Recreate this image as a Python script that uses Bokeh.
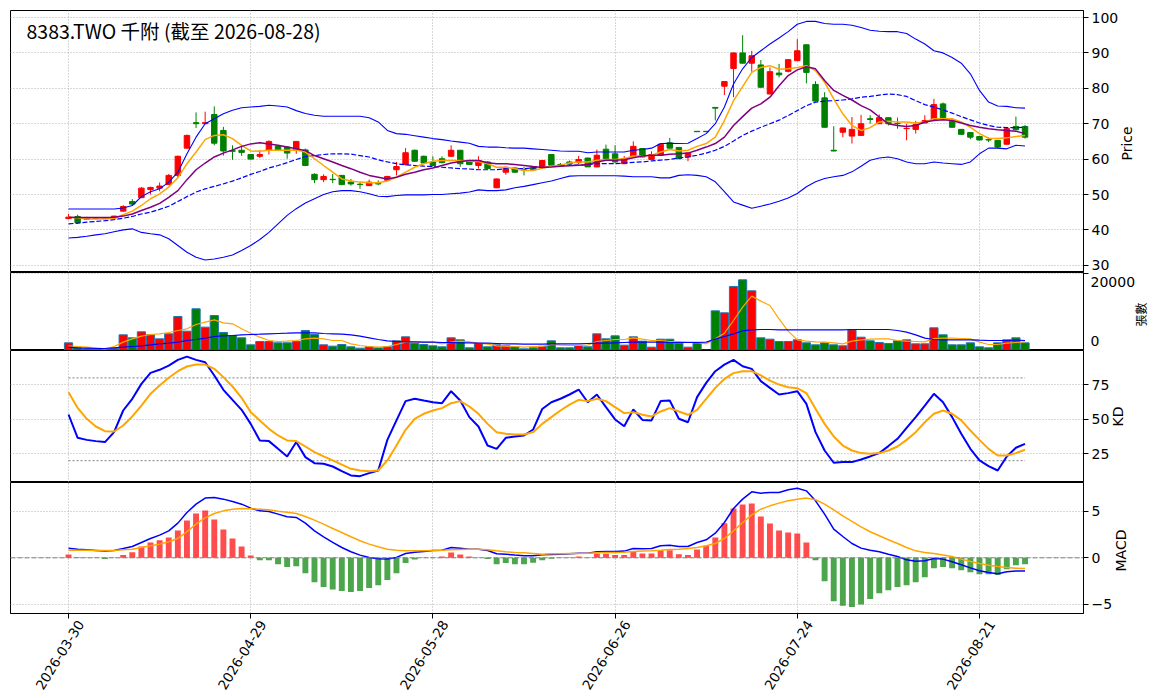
import math
from bokeh.plotting import figure
from bokeh.layouts import column
from bokeh.models import (ColumnDataSource, FixedTicker, Range1d, Label, Span,
                          LinearAxis, CustomJSTickFormatter)
from bokeh.embed import file_html
from bokeh.resources import INLINE

# ---------------- data ----------------
tick_idx = [0, 20, 40, 60, 80, 100]
tick_labels = ["2026-03-30", "2026-04-29", "2026-05-28", "2026-06-26", "2026-07-24", "2026-08-21"]
title_text = "8383.TWO 千附 (截至 2026-08-28)"
price_ticks = [30, 40, 50, 60, 70, 80, 90, 100]
volume_ticks = [0, 20000]
kd_ticks = [25, 50, 75]
macd_ticks = [-5, 0, 5]

opens = [43.2,43.8,43.0,43.3,43.4,43.4,45.3,48.0,49.1,51.4,
         51.8,52.8,55.4,63.1,70.3,70.0,72.6,68.1,62.4,62.5,
         61.3,60.8,62.5,63.7,63.4,62.5,62.6,55.7,54.2,54.3,
         55.4,53.5,52.9,52.5,53.1,54.0,57.0,58.5,62.5,60.8,
         59.2,60.1,60.8,62.5,59.6,58.2,59.2,51.9,56.3,57.5,
         57.0,57.9,57.7,61.3,58.5,59.2,59.0,60.3,57.8,62.8,
         61.5,58.7,60.9,63.0,59.9,61.1,64.6,63.3,60.6,67.85,
         67.85,74.6,80.6,85.6,90.0,87.1,86.6,78.4,84.3,84.8,
         87.8,92.3,81.1,77.3,62.5,67.6,66.5,66.7,71.4,70.0,
         71.7,70.1,68.6,68.4,70.2,71.2,75.6,70.7,68.4,67.5,
         66.4,65.5,65.3,64.2,69.2,69.2]
highs = [44.5,44.3,43.7,43.5,43.5,44.0,47.0,48.7,52.1,52.2,
         53.4,55.8,61.0,66.9,73.2,73.4,74.9,69.1,63.9,63.9,
         61.4,62.6,65.3,63.9,63.6,65.1,63.0,56.0,55.7,55.8,
         55.5,54.4,53.5,54.2,54.0,55.3,59.2,63.1,62.7,61.0,
         60.8,60.8,63.9,62.6,59.8,60.8,59.4,54.5,57.8,57.6,
         57.8,58.0,59.7,61.4,58.9,59.6,60.9,60.4,62.7,64.1,
         63.9,60.9,65.0,63.1,62.2,64.3,66.0,63.4,61.8,67.85,
         67.85,74.6,82.0,90.1,95.0,90.6,88.0,85.9,86.9,88.2,
         93.9,92.4,82.0,78.9,69.3,68.9,71.9,72.5,72.4,72.6,
         71.8,71.7,70.0,70.8,72.4,77.0,76.0,71.2,68.5,67.6,
         66.6,66.2,65.4,69.1,72.0,69.6]
lows = [43.0,41.7,42.8,43.1,43.2,43.2,45.2,46.8,49.0,50.0,
        50.9,52.7,54.9,63.0,68.8,69.9,63.9,61.0,59.8,60.9,
        59.9,60.3,61.3,62.4,60.1,61.5,58.0,53.2,53.5,53.2,
        52.7,52.5,51.6,52.4,52.6,53.9,55.4,58.2,59.3,58.7,
        57.9,58.8,60.7,57.8,58.4,57.3,57.2,51.8,55.6,56.2,
        55.4,56.9,57.6,58.2,58.0,58.4,58.6,57.8,57.7,59.7,
        58.8,58.6,60.8,60.5,59.8,61.0,63.0,60.0,59.4,67.75,
        67.75,70.9,78.1,77.5,87.0,84.7,80.2,78.3,83.1,84.5,
        87.7,81.4,76.3,68.9,62.2,66.2,64.4,66.6,70.0,69.9,
        69.5,68.6,65.3,67.2,70.1,71.1,71.6,68.9,66.9,65.6,
        65.3,64.8,63.0,64.1,68.1,65.8]
closes = [43.6,42.1,43.4,43.4,43.4,43.9,46.6,47.3,51.8,52.0,
          52.4,55.4,60.8,66.7,70.0,70.3,64.5,62.3,62.2,61.9,
          60.0,61.3,65.0,62.5,61.7,65.0,58.2,54.2,55.1,54.2,
          52.8,53.0,52.8,53.5,53.0,55.1,57.9,61.8,59.4,58.9,
          58.2,59.0,62.5,58.7,58.5,59.6,57.3,54.4,57.7,56.3,
          56.9,57.0,59.6,58.3,58.4,58.6,59.9,57.8,61.1,59.8,
          59.2,60.1,63.6,60.6,61.3,64.2,63.1,60.1,61.7,67.75,
          67.75,74.4,81.9,90.0,87.1,89.2,80.3,84.7,83.8,88.1,
          90.6,84.5,76.4,69.0,62.3,68.8,68.4,70.0,71.2,71.7,
          70.0,70.0,68.7,69.8,70.9,75.4,71.7,69.0,67.0,66.2,
          65.4,65.4,63.4,68.6,68.3,66.2]

ma5 = [43.6,43.4,43.1,43.1,43.1,43.3,44.3,45.3,46.9,48.8,
       50.2,52.1,54.7,58.7,62.0,65.5,66.7,66.9,65.8,63.9,
       62.3,62.2,62.5,62.5,62.5,62.6,62.0,60.1,58.2,56.3,
       54.4,53.8,53.5,53.3,53.3,53.8,54.9,56.3,57.7,58.7,
       59.4,59.6,59.6,59.6,59.4,59.3,58.7,57.7,57.7,57.3,
       56.8,56.8,57.4,58.0,58.3,58.9,59.2,59.2,59.7,59.9,
       59.9,60.1,60.9,60.9,61.1,62.0,62.7,62.3,62.5,63.6,
       64.4,66.2,70.9,76.5,80.5,84.5,85.9,86.4,85.4,85.5,
       85.9,86.4,85.0,81.7,77.0,72.8,69.5,68.1,68.9,70.5,
       70.7,70.5,70.5,70.2,70.5,71.4,71.4,71.4,70.5,69.0,
       67.2,65.9,65.8,66.0,66.4,66.7]
ma10 = [43.6,43.5,43.5,43.5,43.5,43.6,43.9,44.5,45.5,46.4,
        47.5,49.2,51.1,54.2,57.0,58.9,60.6,61.7,62.6,63.6,
        64.3,64.6,64.3,63.9,63.4,62.9,62.4,61.0,60.1,59.2,
        58.2,57.3,56.3,55.4,54.9,54.4,54.9,55.7,56.3,57.0,
        57.5,58.2,58.9,59.3,59.6,59.6,59.0,58.7,58.7,58.5,
        58.2,57.9,57.65,57.8,58.0,58.1,58.3,58.5,59.2,59.7,
        59.7,59.8,60.4,60.9,61.1,61.1,61.4,61.5,61.7,62.5,
        63.4,64.4,66.2,69.5,72.0,74.4,75.6,77.5,80.7,83.6,
        85.2,86.1,85.5,82.2,79.4,78.0,76.7,75.1,73.9,71.9,
        70.0,69.5,69.2,69.5,70.5,70.9,71.1,70.9,70.2,69.5,
        69.0,68.6,68.3,68.1,67.9,67.2]
ma20 = [41.7,41.9,42.2,42.4,42.6,42.9,43.3,43.8,44.5,45.0,
        45.8,46.7,48.0,49.4,50.7,51.6,52.3,53.0,53.8,54.7,
        55.7,56.5,57.5,58.2,59.0,59.9,60.7,61.0,61.3,61.5,
        61.5,61.4,61.0,60.6,59.8,59.2,58.7,58.4,58.2,58.0,
        57.9,57.7,57.5,57.3,57.2,57.0,57.0,57.0,57.3,57.3,
        57.3,57.5,57.7,58.0,58.2,58.3,58.3,58.4,58.7,58.7,
        58.7,58.9,59.1,59.2,59.5,59.7,59.9,60.3,60.6,61.1,
        61.7,62.5,63.6,65.1,66.7,67.9,69.0,70.0,71.0,72.3,
        73.7,75.1,76.1,76.4,76.5,76.7,77.0,77.5,77.7,78.1,
        78.4,78.2,77.7,76.5,75.4,74.7,73.9,73.0,72.0,71.1,
        70.2,69.5,69.0,68.9,68.9,69.0]
bb_upper = [45.9,45.9,45.9,45.9,45.9,45.9,46.2,46.9,49.4,50.8,
            51.6,53.5,56.3,61.5,66.2,70.0,71.4,72.8,73.8,74.5,
            74.7,74.9,75.2,75.0,74.7,73.7,72.9,72.4,72.1,72.1,
            72.1,72.1,72.1,71.7,70.5,68.1,67.2,67.0,66.6,66.2,
            65.8,65.5,65.1,64.8,64.5,63.6,63.4,63.4,63.2,63.1,
            63.1,62.9,62.7,62.5,62.3,62.2,62.2,61.8,62.0,62.0,
            62.0,62.0,62.5,62.7,63.1,64.4,64.5,64.4,64.5,65.8,
            67.2,70.0,74.7,81.2,85.5,88.7,90.6,92.5,94.2,96.0,
            98.1,98.9,98.9,98.3,98.1,98.1,97.8,97.2,96.4,96.1,
            96.0,96.0,95.5,93.9,92.5,90.6,90.0,88.7,87.1,84.1,
            79.4,76.1,75.0,74.9,74.5,74.4]
bb_lower = [37.7,37.9,38.2,38.6,38.9,39.5,40.0,40.3,39.3,38.9,
            38.6,37.5,35.6,33.7,32.3,31.5,31.8,32.3,32.9,34.2,
            35.6,37.3,39.3,41.7,44.1,46.0,47.6,48.8,50.0,50.8,
            51.1,51.1,50.8,50.2,49.5,49.4,49.7,49.9,49.9,49.9,
            50.0,50.0,50.2,50.4,50.7,51.3,51.1,51.1,51.3,51.9,
            52.3,52.8,53.3,53.8,54.5,55.2,55.3,55.3,55.3,55.3,
            55.3,55.2,55.0,55.0,55.0,54.7,54.7,55.4,55.6,55.4,
            55.0,53.6,50.8,47.9,47.0,46.1,46.7,47.3,48.1,49.0,
            50.3,52.2,53.6,54.5,55.0,55.4,56.4,58.0,59.7,60.3,
            60.6,60.1,59.2,58.7,58.7,59.2,58.9,58.7,58.5,59.2,
            61.5,63.1,63.1,62.9,63.9,63.7]

volumes = [1990,690,430,300,300,600,4070,3290,4850,4070,
           3030,4330,8830,5020,10830,6060,9090,4680,3900,3290,
           1470,2340,2340,1990,1990,2340,5200,4160,1470,1130,
           1560,950,600,950,690,950,2510,3550,1820,1560,
           1210,950,3290,2770,690,1820,950,1470,1210,950,
           430,690,1100,2510,690,690,1300,950,4330,3030,
           3810,1390,3550,2420,870,2940,2940,1900,870,1900,
           100,10300,9790,16630,18360,15500,3290,2940,2340,2340,
           2770,1990,1470,1990,1470,1210,5370,3460,2510,2080,
           1820,2510,2770,1730,1730,5890,4070,1470,1470,1990,
           950,690,1990,2770,3290,1990]
vol_ma5 = [1210,1040,870,690,430,1040,2170,3030,3720,4160,
           4330,4680,5200,5630,6750,7360,7970,7190,6930,5630,
           4500,3460,2600,2340,2420,2600,3030,3200,3030,2600,
           2600,1730,1300,1040,870,1040,1560,2170,2170,2170,
           2170,1730,2170,2420,2250,1900,1650,1210,1130,1040,
           870,1040,1040,1560,1390,1300,1300,1390,2340,2600,
           2860,2860,3290,2940,2600,2600,2340,2340,2170,2170,
           1730,3030,4500,7790,11260,14120,12820,11690,8230,5020,
           2770,2420,2250,2170,1990,1730,2420,2770,2940,3030,
           3030,2600,2420,2340,2250,3120,3200,3200,3120,3030,
           2170,1560,1560,1900,2080,2250]
vol_ma20 = [870,690,600,520,520,690,870,1040,1210,1470,
            1730,1900,2170,2600,2860,3200,3640,3810,3900,4070,
            4160,4240,4330,4420,4500,4590,4590,4590,4420,4330,
            4240,4070,3720,3290,2860,2510,2340,2250,2250,2170,
            2170,2080,2080,1990,1990,1900,1900,1820,1730,1730,
            1650,1650,1650,1730,1730,1730,1730,1820,1900,1900,
            1990,2080,2170,2170,2170,2170,2080,2080,2080,2080,
            2170,2940,3640,4330,5110,5370,5460,5460,5370,5370,
            5370,5370,5370,5370,5370,5370,5460,5460,5460,5460,
            5460,5200,4760,4070,3200,2860,2770,2770,2770,2770,
            2680,2600,2600,2600,2680,2600]

k_vals = [53.5,36.6,35.1,34.2,33.5,40.7,56.4,64.9,75.7,83.7,
          85.9,89.0,93.1,95.5,93.1,91.4,81.8,71.4,64.1,56.9,
          46.7,34.7,34.2,28.6,23.1,33.5,22.6,18.2,17.8,15.8,
          12.4,9.3,8.8,11.0,12.9,35.1,49.2,63.2,64.9,63.6,
          62.4,61.7,70.4,63.6,51.6,44.8,31.0,28.6,36.6,37.6,
          38.3,42.6,57.5,62.4,64.9,68.0,71.6,62.4,68.0,58.8,
          49.9,45.0,57.1,49.6,49.2,63.2,63.6,50.4,47.9,66.1,
          76.4,84.9,89.7,93.1,88.5,86.6,77.7,72.8,68.0,69.0,
          70.4,61.2,40.7,27.4,18.5,19.0,19.0,20.9,23.1,25.5,
          30.6,35.9,43.8,51.6,60.0,68.5,62.4,51.6,39.5,28.6,
          20.2,16.1,12.9,23.1,29.4,32.2]
d_vals = [69.7,58.3,50.4,44.8,41.4,41.2,45.5,52.1,60.0,68.5,
          74.5,80.1,84.9,88.3,89.7,89.7,86.6,80.6,73.8,65.6,
          55.2,49.2,43.1,38.3,34.7,34.2,30.3,26.2,23.1,20.2,
          17.1,14.1,12.9,12.4,12.9,20.2,31.0,42.4,50.4,54.0,
          56.4,58.1,61.7,63.2,59.3,54.0,46.7,40.7,39.5,39.0,
          39.0,40.7,46.7,51.6,56.4,60.7,64.1,63.2,64.9,63.2,
          58.8,54.5,55.2,53.3,52.1,55.7,58.1,55.7,53.3,56.9,
          64.9,72.8,79.3,83.5,84.9,84.9,81.8,78.1,75.2,73.3,
          72.6,69.0,57.6,46.7,37.6,31.0,27.4,25.5,25.0,25.5,
          27.4,30.3,35.1,40.7,47.9,54.0,56.4,54.0,49.2,41.9,
          35.1,28.6,23.8,23.8,25.5,27.9]

dif = [1.04,0.93,0.86,0.79,0.72,0.79,1.0,1.22,1.65,2.08,
       2.44,2.9,3.73,4.87,5.77,6.42,6.49,6.31,6.06,5.77,
       5.34,5.05,4.98,4.7,4.41,4.34,3.73,2.9,2.26,1.65,
       1.11,0.65,0.29,0.04,-0.11,-0.14,0.04,0.47,0.61,0.68,
       0.79,0.82,1.11,1.04,0.93,0.93,0.79,0.43,0.39,0.29,
       0.22,0.22,0.32,0.36,0.39,0.43,0.5,0.5,0.65,0.68,
       0.68,0.72,1.0,0.97,1.0,1.29,1.36,1.22,1.22,1.65,
       1.94,2.65,3.8,5.3,6.31,7.1,6.95,7.03,7.03,7.31,
       7.49,7.2,6.13,4.7,3.08,2.29,1.54,1.04,0.82,0.65,
       0.39,0.14,-0.22,-0.36,-0.32,-0.07,-0.14,-0.43,-0.75,-1.08,
       -1.4,-1.58,-1.72,-1.51,-1.43,-1.43]
dea = [0.82,0.82,0.82,0.79,0.79,0.79,0.86,0.93,1.11,1.29,
       1.47,1.72,2.08,2.8,3.62,4.3,4.77,5.05,5.23,5.3,
       5.27,5.23,5.16,5.02,4.91,4.77,4.44,4.05,3.62,3.15,
       2.72,2.26,1.83,1.47,1.18,0.93,0.82,0.75,0.75,0.75,
       0.79,0.82,0.86,0.9,0.93,0.93,0.86,0.75,0.65,0.57,
       0.54,0.47,0.39,0.43,0.43,0.47,0.47,0.5,0.54,0.57,
       0.57,0.61,0.68,0.72,0.75,0.82,0.9,0.93,1.0,1.11,
       1.29,1.54,2.08,2.9,3.8,4.62,5.23,5.59,5.88,6.13,
       6.31,6.42,6.24,5.77,5.16,4.52,3.91,3.33,2.8,2.37,
       1.94,1.54,1.11,0.75,0.57,0.47,0.29,0.14,-0.14,-0.39,
       -0.61,-0.79,-0.93,-1.04,-1.11,-1.15]
macd_hist = [0.36,0.05,0.03,0.02,-0.14,0.03,0.29,0.61,1.22,1.65,
             1.9,2.19,2.94,4.01,4.77,5.09,4.12,3.05,2.08,1.22,
             0.25,-0.25,-0.25,-0.68,-1.0,-0.9,-1.65,-2.62,-3.15,-3.41,
             -3.58,-3.69,-3.58,-3.26,-2.94,-2.4,-1.65,-0.57,-0.18,-0.03,
             0.02,0.14,0.57,0.36,0.14,0.03,-0.14,-0.68,-0.57,-0.68,
             -0.68,-0.54,-0.25,-0.1,-0.03,-0.02,0.14,0.03,0.47,0.43,
             0.29,0.29,0.65,0.47,0.47,0.82,0.82,0.39,0.29,0.9,
             1.29,2.19,3.73,5.3,5.73,5.84,4.44,3.69,2.94,2.72,
             2.62,1.65,-0.25,-2.51,-4.66,-5.16,-5.3,-5.02,-4.44,-3.8,
             -3.48,-3.15,-2.94,-2.62,-2.08,-1.11,-1.0,-1.11,-1.33,-1.54,
             -1.76,-1.76,-1.86,-1.22,-0.79,-0.68]

# ---------------- sources ----------------
x = list(range(len(closes)))
UP, DOWN = "#ff0000", "#008000"
candle_colors = [UP if c >= o else DOWN for o, c in zip(opens, closes)]
src = ColumnDataSource(dict(
    x=x, open=opens, high=highs, low=lows, close=closes,
    top=[max(o, c) for o, c in zip(opens, closes)],
    bot=[min(o, c) for o, c in zip(opens, closes)],
    color=candle_colors,
    ma5=ma5, ma10=ma10, ma20=ma20, up=bb_upper, lo=bb_lower,
    vol=volumes, vma5=vol_ma5, vma20=vol_ma20,
    k=k_vals, d=d_vals, dif=dif, dea=dea, hist=macd_hist,
    hcolor=["#ff0000" if h >= 0 else "#008000" for h in macd_hist],
))

# ---------------- layout geometry ----------------
W = 1164
LB, RB = 10, 81                 # frame spans x = 10 .. 1083
X0, X1 = -6.37, 111.42
PX = (W - LB - RB) / (X1 - X0)  # pixels per bar
FONT = "DejaVu Sans"
CJK = "Noto Sans CJK TC"
xr = Range1d(X0, X1)
EM = "\u2003"       # em space, pushes the rotated axis title up from the panel bottom
IDEO = "\u3000"     # ideographic space (1em) for the CJK title


def make_fig(height, yr, ticks, label, top=0, bottom=0, xaxis=False,
             label_font=FONT, label_size="14px", tick_standoff=3, label_standoff=6):
    p = figure(width=W, height=height, x_range=xr, y_range=yr,
               output_backend="svg", toolbar_location=None,
               x_axis_location="below" if xaxis else None,
               y_axis_location="right",
               min_border_left=LB, min_border_right=RB,
               min_border_top=top, min_border_bottom=bottom)
    p.outline_line_color = "black"
    p.outline_line_alpha = 1.0
    p.outline_line_width = 1
    p.background_fill_color = "white"
    p.border_fill_color = "white"
    p.xgrid.ticker = FixedTicker(ticks=tick_idx)
    for g in (p.xgrid, p.ygrid):
        g.grid_line_color = "#b0b0b0"
        g.grid_line_dash = "1 2"
        g.grid_line_width = 1
    ax = p.yaxis[0]
    ax.ticker = FixedTicker(ticks=ticks)
    ax.major_tick_out = 5
    ax.major_tick_in = 0
    ax.minor_tick_out = 0
    ax.minor_tick_in = 0
    ax.major_tick_line_color = "black"
    ax.axis_line_color = "black"
    ax.major_label_text_font = FONT
    ax.major_label_text_font_size = "14px"
    ax.major_label_text_color = "black"
    ax.major_label_standoff = tick_standoff
    ax.axis_label = label
    ax.axis_label_text_font = label_font
    ax.axis_label_text_font_size = label_size
    ax.axis_label_text_font_style = "normal"
    ax.axis_label_text_color = "black"
    ax.axis_label_standoff = label_standoff
    try:
        ax.axis_label_orientation = math.pi / 2   # read bottom-to-top
        ax.axis_label_align = "start"
    except Exception:
        pass
    return p


# ---------------- price panel ----------------
p1 = make_fig(272, Range1d(27.97, 101.98), price_ticks, EM * 8 + "Price", top=10)
p1.segment(x0="x", y0="low", x1="x", y1="high", source=src, line_color="color", line_width=1)
p1.vbar(x="x", width=0.6, top="top", bottom="bot", source=src,
        fill_color="color", line_color="color", line_width=1)
p1.line("x", "up", source=src, line_color="blue", line_width=1.1)
p1.line("x", "lo", source=src, line_color="blue", line_width=1.1)
p1.line("x", "ma20", source=src, line_color="blue", line_width=1.2, line_dash="5 2")
p1.line("x", "ma5", source=src, line_color="orange", line_width=1.5)
p1.line("x", "ma10", source=src, line_color="purple", line_width=1.5)
p1.add_layout(Label(x=X0 + 16 / PX, y=96.4, text=title_text, text_font=CJK,
                    text_font_size="19.5px", text_color="black",
                    text_baseline="middle", text_align="left"))

# ---------------- volume panel ----------------
p2 = make_fig(78, Range1d(0, 20260), volume_ticks, IDEO * 2 + "張數", label_font=CJK,
              label_size="12px", tick_standoff=2, label_standoff=2)
# keep the edge tick labels inside the panel (small multi-line shift)
p2.yaxis.major_label_overrides = {volume_ticks[0]: "%d\n" % volume_ticks[0],
                                  volume_ticks[1]: "\n%d" % volume_ticks[1]}
p2.yaxis.major_label_text_line_height = 0.1
p2.vbar(x="x", width=0.9, top="vol", bottom=0, source=src,
        fill_color="color", line_color="#1f77b4", line_width=1)
p2.line("x", "vma5", source=src, line_color="orange", line_width=1.2)
p2.line("x", "vma20", source=src, line_color="blue", line_width=1.2)

# ---------------- KD panel ----------------
p3 = make_fig(132, Range1d(4.2, 99.9), kd_ticks, EM * 4 + "KD")
p3.line([x[0], x[-1]], [80, 80], line_color="gray", line_dash="2 2", line_width=1)
p3.line([x[0], x[-1]], [20, 20], line_color="gray", line_dash="2 2", line_width=1)
p3.line("x", "k", source=src, line_color="blue", line_width=2)
p3.line("x", "d", source=src, line_color="orange", line_width=2)

# ---------------- MACD panel ----------------
p4 = make_fig(215, Range1d(-5.99, 8.10), macd_ticks, EM * 3 + "MACD", bottom=84, xaxis=True)
p4.yaxis.major_label_overrides = {-5: "\u22125"}
p4.vbar(x="x", width=0.65, top="hist", bottom=0, source=src,
        fill_color="hcolor", fill_alpha=0.7, line_color=None)
p4.add_layout(Span(location=0, dimension="width", line_color="gray",
                   line_dash="5 2", line_width=1))
p4.line("x", "dif", source=src, line_color="blue", line_width=1.5)
p4.line("x", "dea", source=src, line_color="orange", line_width=1.5)

# x axis: tick marks at the dates ...
xa = p4.xaxis[0]
xa.ticker = FixedTicker(ticks=tick_idx)
xa.major_label_overrides = {t: "" for t in tick_idx}
xa.major_label_text_font_size = "1px"
xa.major_label_standoff = 0
xa.major_tick_out = 5
xa.major_tick_in = 0
xa.minor_tick_out = 0
xa.minor_tick_in = 0
xa.major_tick_line_color = "black"
xa.axis_line_color = "black"
# ... and the rotated date labels, anchored slightly right of each tick
LAB_OFF = 12 / PX
lab_pos = [t + LAB_OFF for t in tick_idx]
xa2 = LinearAxis(ticker=FixedTicker(ticks=lab_pos),
                 formatter=CustomJSTickFormatter(
                     args=dict(pos=lab_pos, labels=tick_labels),
                     code="""
let best = ''; let bd = 1e9;
for (let j = 0; j < pos.length; j++) {
  const d = Math.abs(pos[j] - tick);
  if (d < bd) { bd = d; best = labels[j]; }
}
return best;
"""))
xa2.major_tick_out = 0
xa2.major_tick_in = 0
xa2.minor_tick_out = 0
xa2.minor_tick_in = 0
xa2.axis_line_color = None
xa2.major_label_orientation = math.radians(58)
xa2.major_label_text_font = FONT
xa2.major_label_text_font_size = "13.5px"
xa2.major_label_text_color = "black"
xa2.major_label_standoff = 3
p4.add_layout(xa2, "below")

layout = column(p1, p2, p3, p4, spacing=0)
open("out.html", "w").write(file_html(layout, INLINE, title="8383.TWO"))
